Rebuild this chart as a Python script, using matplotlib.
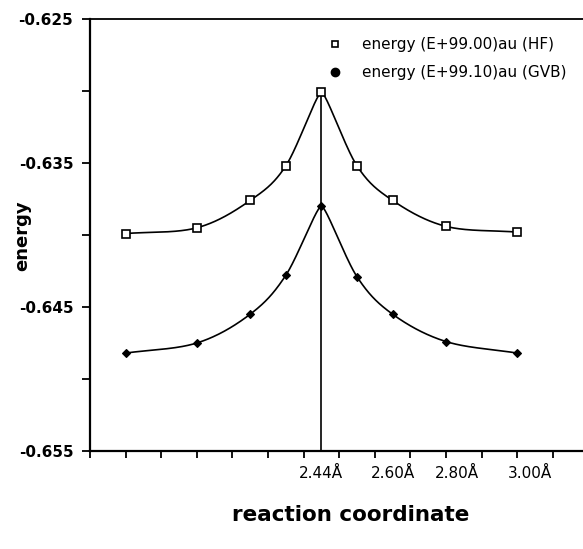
import numpy as np
import matplotlib
matplotlib.use("Agg")
import matplotlib.pyplot as plt
from matplotlib.lines import Line2D

# ---- data ----
x_pos = [1, 3, 4.5, 5.5, 6.5, 7.5, 8.5, 10, 12]
hf_energy = [-0.6399, -0.6395, -0.6376, -0.6352, -0.6301, -0.6352, -0.6376, -0.6394, -0.6398]
gvb_energy = [-0.6482, -0.6475, -0.6455, -0.6428, -0.6380, -0.6429, -0.6455, -0.6474, -0.6482]
xtick_pos = [6.5, 8.5, 10.3, 12.35]
xtick_labels = ["2.44Å", "2.60Å", "2.80Å", "3.00Å"]
ytick_vals = [-0.625, -0.635, -0.645, -0.655]
ytick_labels = ["-0.625", "-0.635", "-0.645", "-0.655"]
hf_label = "energy (E+99.00)au (HF)"
gvb_label = "energy (E+99.10)au (GVB)"

XSCALE = 35.6     # approx px per x unit (for smoothing shape only)
YSCALE = 14400.0  # approx px per energy unit


def smooth_curve(x, y, peak_factor=0.4, n=60):
    """Parametric cubic Hermite (Catmull-Rom) through the points, with a
    shortened tangent at the maximum so the peak stays fairly sharp."""
    P = np.column_stack([np.asarray(x, float) * XSCALE, np.asarray(y, float) * YSCALE])
    m = len(P)
    T = np.zeros_like(P)
    T[0] = P[1] - P[0]
    T[-1] = P[-1] - P[-2]
    for i in range(1, m - 1):
        T[i] = (P[i + 1] - P[i - 1]) / 2
    k = int(np.argmax(P[:, 1]))
    T[k] *= peak_factor
    out = []
    t = np.linspace(0, 1, n)[:, None]
    h00 = 2 * t**3 - 3 * t**2 + 1
    h10 = t**3 - 2 * t**2 + t
    h01 = -2 * t**3 + 3 * t**2
    h11 = t**3 - t**2
    for i in range(m - 1):
        seg = h00 * P[i] + h10 * T[i] + h01 * P[i + 1] + h11 * T[i + 1]
        out.append(seg if i == 0 else seg[1:])
    out = np.vstack(out)
    return out[:, 0] / XSCALE, out[:, 1] / YSCALE


fig = plt.figure(figsize=(5.83, 5.49), dpi=100)
ax = fig.add_axes([90 / 583, 98 / 549, 1 - 90 / 583, 432 / 549])

for yv, style in [(hf_energy, dict(marker='s', ms=5.5, mfc='white', mec='black', mew=1.2)),
                  (gvb_energy, dict(marker='D', ms=4.5, mfc='black', mec='black', mew=0.8))]:
    xs, ys = smooth_curve(x_pos, yv)
    ax.plot(xs, ys, color='black', lw=1.2, zorder=2)
    ax.plot(x_pos, yv, ls='none', zorder=3, **style)

peak_i = int(np.argmax(hf_energy))
ax.vlines(x_pos[peak_i], -0.655, hf_energy[peak_i], color='black', lw=1.2, zorder=1)

ax.set_xlim(0, 493 / 35.6)
ax.set_ylim(-0.655, -0.625)

ax.spines['right'].set_visible(False)
ax.spines['left'].set_linewidth(1.6)
ax.spines['bottom'].set_linewidth(1.6)
ax.spines['top'].set_linewidth(1.3)

ax.set_yticks(ytick_vals)
ax.set_yticklabels(ytick_labels, fontsize=11, fontweight='bold')
ax.set_yticks([-0.63, -0.64, -0.65], minor=True)
ax.tick_params(axis='y', which='both', direction='out', length=6, width=1.3, pad=6)

ax.set_xticks(xtick_pos)
ax.set_xticklabels(xtick_labels, fontsize=11)
ax.set_xticks(np.arange(0, 14), minor=True)
ax.tick_params(axis='x', which='major', length=0, pad=11)
ax.tick_params(axis='x', which='minor', direction='out', length=5, width=1.3)

fig.text(22 / 583, 1 - 236 / 549, "energy", rotation=90, fontsize=13,
         fontweight='bold', ha='center', va='center')
fig.text(351 / 583, 1 - 515 / 549, "reaction coordinate", fontsize=15.5,
         fontweight='bold', ha='center', va='center')

handles = [Line2D([], [], ls='none', marker='s', ms=5, mfc='white', mec='black', mew=1.2),
           Line2D([], [], ls='none', marker='o', ms=6, mfc='black', mec='black')]
fig.legend(handles, [hf_label, gvb_label], loc='upper left',
           bbox_to_anchor=(327.4 / 583, 1 - 37.5 / 549), frameon=False,
           fontsize=11, borderpad=0, borderaxespad=0, handlelength=1.0,
           handletextpad=1.26, labelspacing=0.82)

fig.savefig("out.png", dpi=100)
